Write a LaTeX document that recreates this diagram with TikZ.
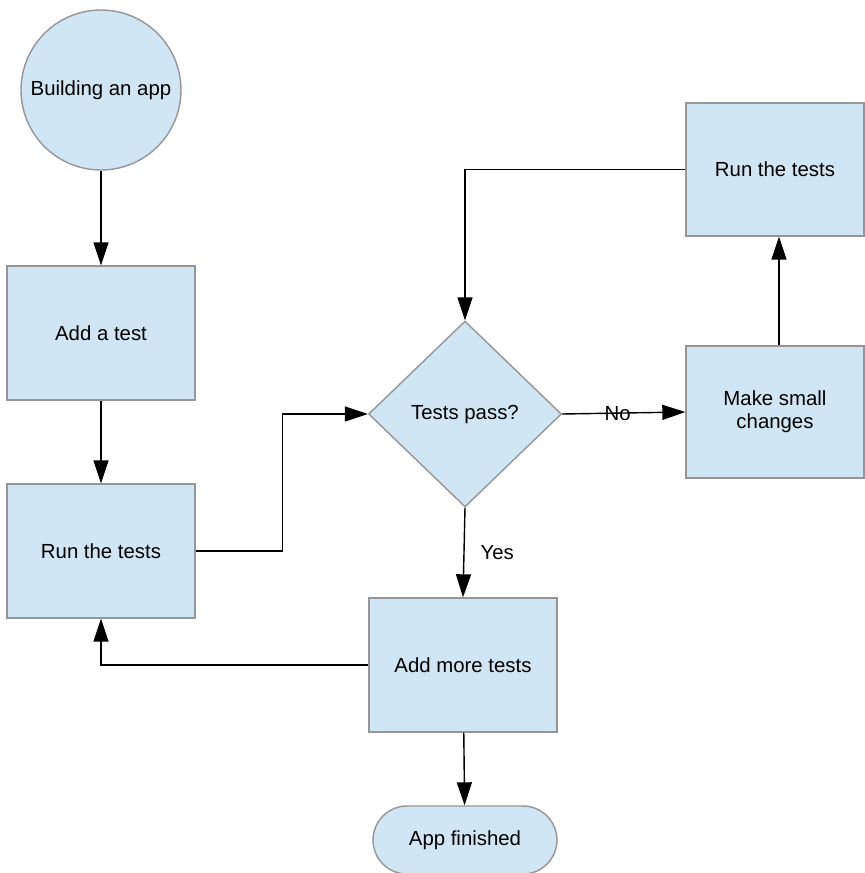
\documentclass[tikz,border=0pt]{standalone}
\usepackage{fontspec}
\setmainfont{Liberation Sans}
\usepackage{tikz}
\usetikzlibrary{shapes.geometric,arrows.meta}

\definecolor{boxfill}{RGB}{208,230,244}
\definecolor{boxline}{RGB}{150,150,150}

\tikzset{
    block/.style={draw=boxline, fill=boxfill, thick, rectangle, inner sep=0pt, minimum width=3.76cm, minimum height=2.68cm, align=center},
    startnode/.style={draw=boxline, fill=boxfill, thick, circle, inner sep=0pt, minimum size=3.2cm},
    decision/.style={draw=boxline, fill=boxfill, thick, diamond, inner sep=0pt, minimum width=3.86cm, minimum height=3.72cm},
    endnode/.style={draw=boxline, fill=boxfill, thick, rectangle, rounded corners=0.68cm, inner sep=0pt, minimum width=3.68cm, minimum height=1.36cm},
    line/.style={thick, ->}
}

\begin{document}
\begin{tikzpicture}[x=0.02cm, y=-0.02cm, >={Triangle[length=0.46cm, width=0.3cm]}, font=\fontsize{11.6}{13}\selectfont]
    \useasboundingbox (0,0) rectangle (865,873);
    \node[startnode] (build) at (101,90) {Building an app};
    \node[block] (addtest) at (101,333) {Add a test};
    \node[block] (runleft) at (101,551) {Run the tests};
    \node[decision] (pass) at (465,414) {Tests pass?};
    \node[block, minimum width=3.56cm, minimum height=2.64cm] (change) at (775,412) {Make small\\changes};
    \node[block, minimum width=3.56cm, minimum height=2.66cm] (runright) at (775,169.5) {Run the tests};
    \node[block] (more) at (463,665) {Add more tests};
    \node[endnode] (finish) at (465,840) {App finished};

    \draw[line] (build) -- (addtest);
    \draw[line] (addtest) -- (runleft);
    \draw[line] (runleft.east) -- ++(87,0) |- (pass.west);
    \draw[line] (pass.south) -- node[right=0.2cm] {Yes} (more.north);
    \draw[line] (pass.east) -- node[pos=0.45] {No} (change.west);
    \draw[line] (change.north -| 779,0) -- (runright.south -| 779,0);
    \draw[line] (runright.west) -| (pass.north);
    \draw[line] (more.west) -| (runleft.south);
    \draw[line] (more) -- (finish);
\end{tikzpicture}
\end{document}
